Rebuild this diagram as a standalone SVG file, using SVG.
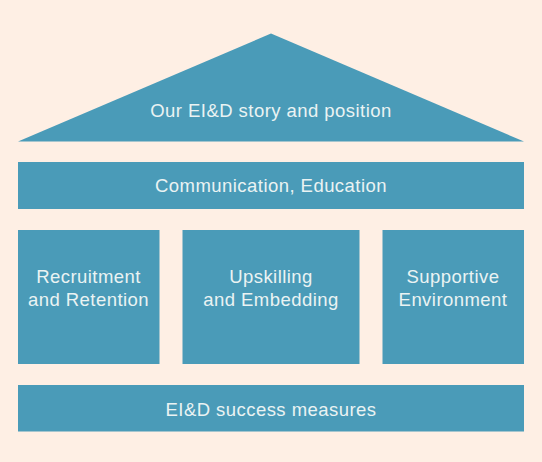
<svg xmlns="http://www.w3.org/2000/svg" width="542" height="462" viewBox="0 0 542 462">
<style>
.shape{fill:#4A9BB8}
.lbl{font-family:"Liberation Sans",Arial,sans-serif;font-size:18.5px;fill:#EAF3F3;text-anchor:middle;letter-spacing:0.45px}
</style>
<rect x="0" y="0" width="542" height="462" fill="#FEEFE4"/>
<g id="connectors"></g>
<g id="roof">
<polygon class="shape" points="271,33.5 524,141.5 18,141.5"/>
<text class="lbl" x="271" y="117">Our EI&amp;D story and position</text>
</g>
<g id="communication">
<rect class="shape" x="18" y="162" width="506" height="47"/>
<text class="lbl" x="271" y="192">Communication, Education</text>
</g>
<g id="recruitment">
<rect class="shape" x="18" y="230" width="141.5" height="134"/>
<text class="lbl" x="88.5" y="283">Recruitment</text>
<text class="lbl" x="88.5" y="306">and Retention</text>
</g>
<g id="upskilling">
<rect class="shape" x="182.5" y="230" width="177" height="134"/>
<text class="lbl" x="271" y="283">Upskilling</text>
<text class="lbl" x="271" y="306">and Embedding</text>
</g>
<g id="supportive">
<rect class="shape" x="382.5" y="230" width="141.5" height="134"/>
<text class="lbl" x="453" y="283">Supportive</text>
<text class="lbl" x="453" y="306">Environment</text>
</g>
<g id="measures">
<rect class="shape" x="18" y="385" width="506" height="46.5"/>
<text class="lbl" x="271" y="416">EI&amp;D success measures</text>
</g>
</svg>
